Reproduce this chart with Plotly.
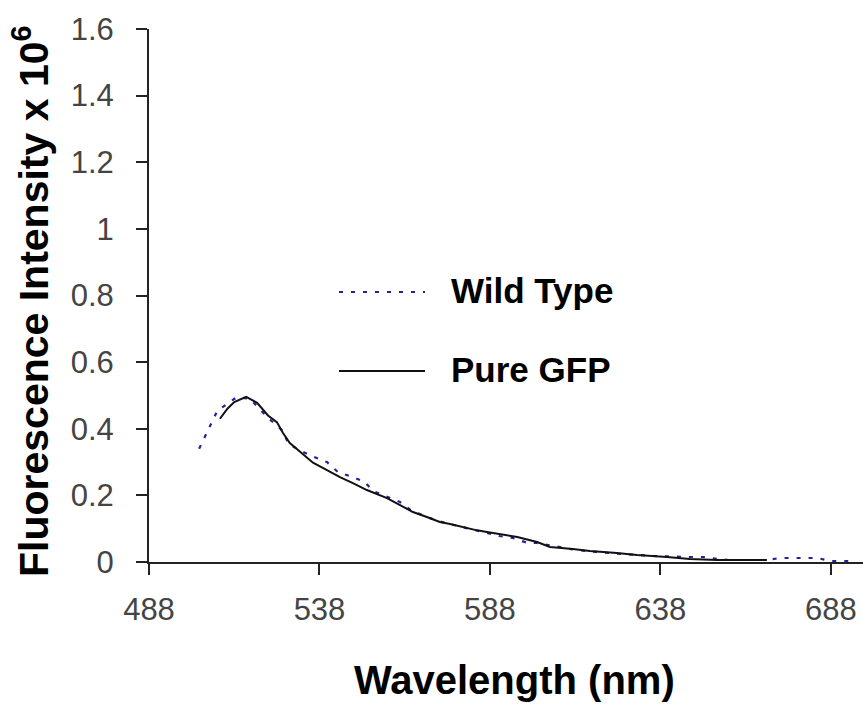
import plotly.graph_objects as go

# ---- data ----
wt_wavelength = [502.7, 504.4, 506.2, 508.0, 511.2, 513.8, 517.6, 520.3, 523.0, 527.0,
                 529.0, 532.3, 536.0, 540.2, 543.4, 547.2, 551.3, 553.7, 557.8, 561.6,
                 565.1, 568.4, 572.7, 579.8, 587.1, 590.8, 594.7, 599.1, 601.8, 613.2,
                 625.0, 636.0, 646.6, 650.5, 654.6, 658.0, 662.0, 666.0, 669.0, 673.0,
                 676.0, 680.0, 684.0, 687.7, 691.5, 695.0]
wt_intensity = [0.34, 0.375, 0.417, 0.453, 0.477, 0.495, 0.49, 0.46, 0.432, 0.396,
                0.354, 0.335, 0.317, 0.30, 0.27, 0.257, 0.24, 0.213, 0.195, 0.18,
                0.153, 0.141, 0.123, 0.105, 0.087, 0.078, 0.072, 0.057, 0.057, 0.036,
                0.025, 0.018, 0.015, 0.015, 0.009, 0.006, 0.006, 0.006, 0.006, 0.012,
                0.012, 0.012, 0.012, 0.003, 0.003, 0.003]

gfp_wavelength = [508.8, 511.0, 513.0, 516.5, 519.7, 522.9, 525.5, 527.3, 529.3, 532.3,
                  536.1, 540.2, 544.0, 547.8, 551.9, 557.8, 561.6, 565.4, 569.5, 573.3,
                  576.3, 580.1, 584.2, 587.1, 591.0, 596.0, 601.8, 605.6, 612.3, 617.3,
                  625.2, 631.1, 639.9, 646.6, 654.6, 669.2]
gfp_intensity = [0.43, 0.46, 0.48, 0.496, 0.478, 0.44, 0.42, 0.387, 0.357, 0.33,
                 0.298, 0.276, 0.255, 0.237, 0.216, 0.192, 0.171, 0.15, 0.135, 0.12,
                 0.114, 0.104, 0.095, 0.09, 0.084, 0.075, 0.06, 0.045, 0.039, 0.033,
                 0.027, 0.021, 0.015, 0.009, 0.006, 0.006]

x_ticks = [488, 538, 588, 638, 688]
y_ticks = [0, 0.2, 0.4, 0.6, 0.8, 1, 1.2, 1.4, 1.6]
y_tick_labels = ["0", "0.2", "0.4", "0.6", "0.8", "1", "1.2", "1.4", "1.6"]
series_names = ["Wild Type", "Pure GFP"]

WT_COLOR = "#22229a"
GFP_COLOR = "#111111"
FONT = "Arial, 'Liberation Sans', sans-serif"

W, H = 863, 705
ML, MR, MT, MB = 149, 0, 29, 143
XR = [488, 697.4]

fig = go.Figure()
fig.add_trace(go.Scatter(x=wt_wavelength, y=wt_intensity, mode="lines", name=series_names[0],
                         line=dict(color=WT_COLOR, width=2.2, dash="4px,8px")))
fig.add_trace(go.Scatter(x=gfp_wavelength, y=gfp_intensity, mode="lines", name=series_names[1],
                         line=dict(color=GFP_COLOR, width=2)))

def px_to_paper_x(px):
    return (px - ML) / (W - ML - MR)

def px_to_paper_y(py):
    return (H - MB - py) / (H - MT - MB)

# custom legend (long line samples, as in the reference)
legend_items = [(series_names[0], 292, WT_COLOR, "4px,8px", 2.2),
                (series_names[1], 371, GFP_COLOR, "solid", 2)]
shapes = []
annotations = []
for name, ypx, color, dash, width in legend_items:
    shapes.append(dict(type="line", xref="paper", yref="paper",
                       x0=px_to_paper_x(339), x1=px_to_paper_x(425),
                       y0=px_to_paper_y(ypx), y1=px_to_paper_y(ypx),
                       line=dict(color=color, width=width, dash=dash)))
    annotations.append(dict(text="<b>%s</b>" % name, xref="paper", yref="paper",
                            x=px_to_paper_x(449), y=px_to_paper_y(ypx - 2),
                            xanchor="left", yanchor="middle", showarrow=False,
                            font=dict(family=FONT, size=35, color="black")))

# axis titles
annotations.append(dict(text="<b>Wavelength (nm)</b>", xref="paper", yref="paper",
                        x=px_to_paper_x(514), y=px_to_paper_y(680),
                        xanchor="center", yanchor="middle", showarrow=False,
                        font=dict(family=FONT, size=40, color="black")))
annotations.append(dict(text="<b>Fluorescence Intensity x 10<sup>6</sup></b>", xref="paper", yref="paper",
                        x=px_to_paper_x(31), y=px_to_paper_y(302), textangle=-90,
                        xanchor="center", yanchor="middle", showarrow=False,
                        font=dict(family=FONT, size=41, color="black")))

fig.update_layout(
    width=W, height=H,
    margin=dict(l=ML, r=MR, t=MT, b=MB, pad=0),
    paper_bgcolor="white", plot_bgcolor="white",
    showlegend=False,
    shapes=shapes, annotations=annotations,
    font=dict(family=FONT),
)
fig.update_xaxes(range=XR, tickvals=x_ticks, ticktext=[str(v) for v in x_ticks],
                 showgrid=False, zeroline=False, showline=True, linecolor="#222", linewidth=2,
                 ticks="outside", ticklen=11, tickwidth=2, tickcolor="#222",
                 tickfont=dict(family=FONT, size=31, color="#444"), ticklabelstandoff=8)
fig.update_yaxes(range=[0, 1.6], tickvals=y_ticks, ticktext=y_tick_labels,
                 showgrid=False, zeroline=False, showline=True, linecolor="#222", linewidth=2,
                 ticks="outside", ticklen=11, tickwidth=2, tickcolor="#222",
                 tickfont=dict(family=FONT, size=31, color="#444"), ticklabelstandoff=16)

fig.write_html("out.html")
